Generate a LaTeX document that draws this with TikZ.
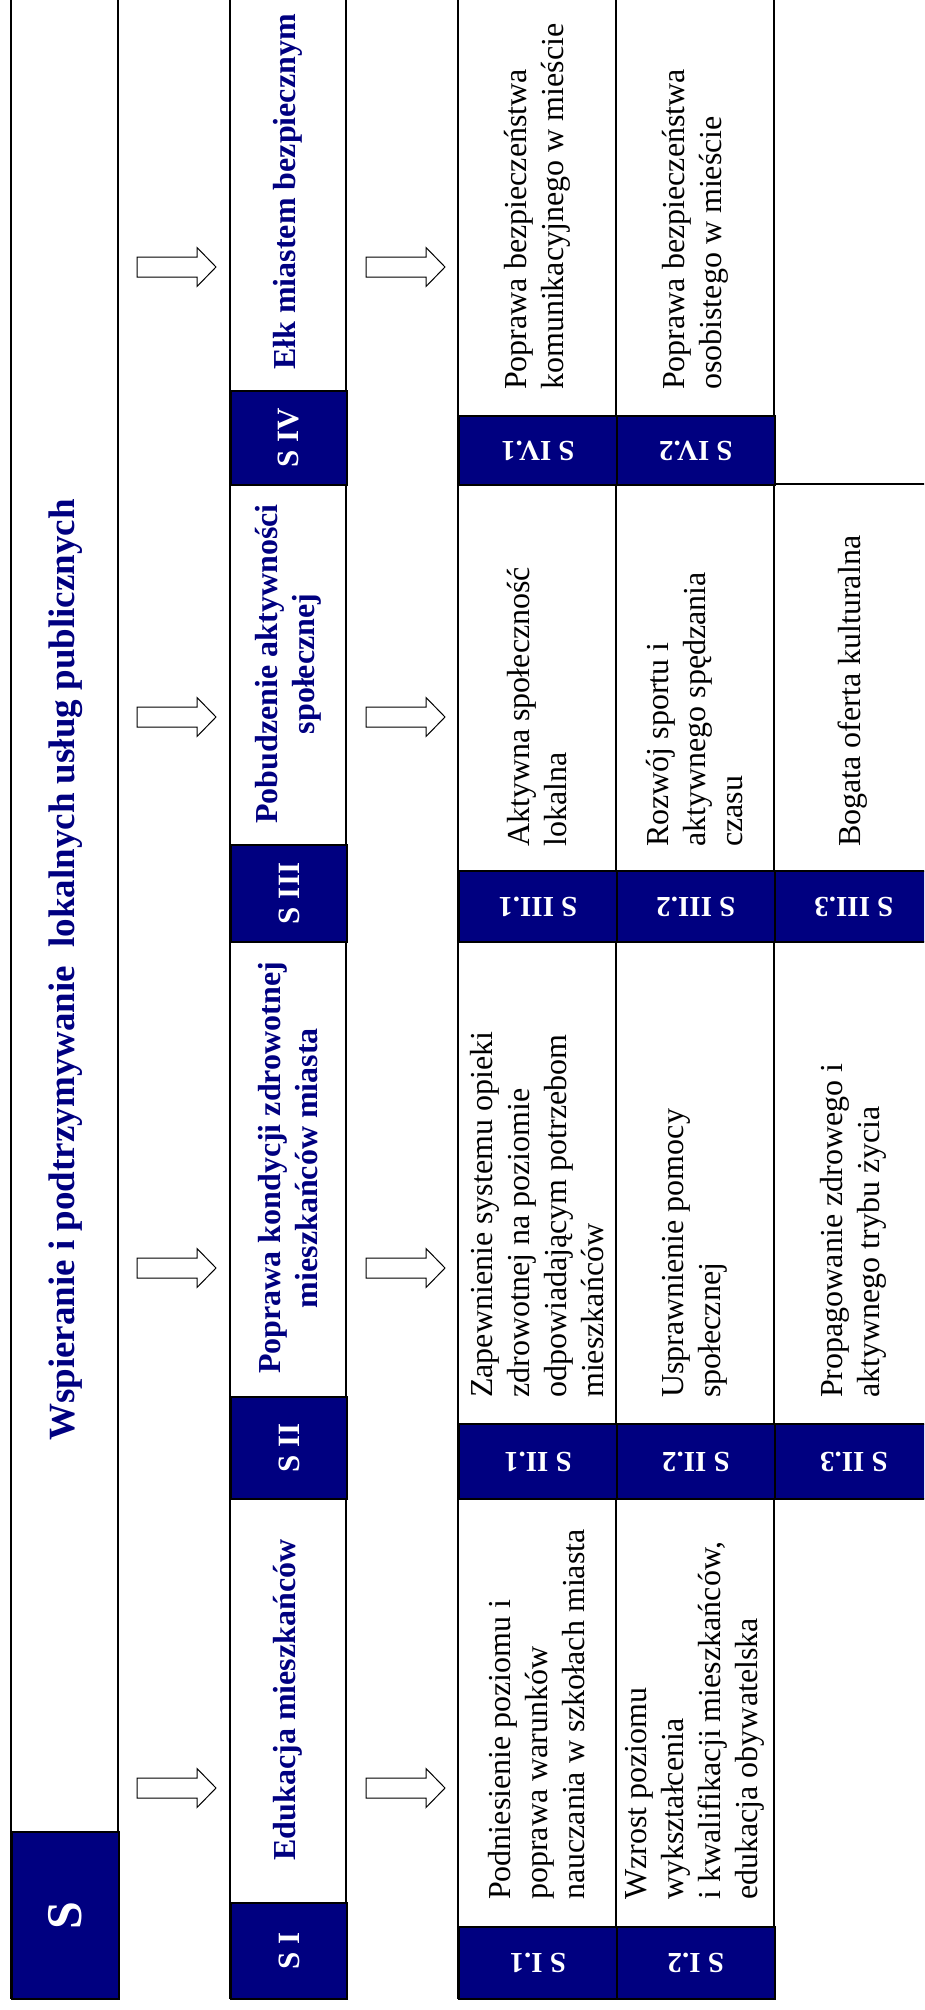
\documentclass[tikz,border=0pt]{standalone}
\usepackage{graphicx}
\usepackage{fontspec}
\setmainfont{Liberation Serif}
\definecolor{sgnavy}{RGB}{0,0,128}

\begin{document}
\begin{tikzpicture}[x=1pt, y=-1pt,
  frame/.style={line width=1.4pt},
  hdr/.style={rectangle, draw=black, line width=1.8pt, fill=sgnavy, text=white, inner sep=0pt, anchor=north west, font=\fontsize{31}{36}\selectfont\bfseries},
  goal/.style={rotate=90, inner sep=0pt, align=center, text=sgnavy, font=\fontsize{32}{37}\selectfont\bfseries},
  task/.style={rotate=90, inner sep=0pt, align=left, anchor=west, font=\fontsize{32}{37}\selectfont},
  blockarrow/.style={draw=black, line width=1pt, fill=white}
]
\useasboundingbox (0,0) rectangle (924,2010);
\clip (0,0) rectangle (924,2010);

% table columns
\draw[frame] (11,-10) rectangle (118,1998);
\draw[frame] (230,-10) rectangle (346,1998);
\draw[frame] (458,-10) rectangle (774,1998);
\draw[frame] (616,-10) -- (616,1998);
\draw[frame] (774,-10) -- (774,1998);
\draw[frame] (774,484) -- (940,484);

% main goal
\node[hdr, minimum width=107, minimum height=167, font=\fontsize{50}{56}\selectfont\bfseries] (s) at (11,1831) {\rotatebox{90}{S}};
\node[goal, font=\fontsize{37}{42}\selectfont\bfseries] (main) at (66,970) {Wspieranie i podtrzymywanie\ \ lokalnych usług publicznych};

% strategic goals
\node[hdr, minimum width=116, minimum height=96] (s1) at (230,1902) {\rotatebox{90}{S I}};
\node[hdr, minimum width=116, minimum height=102] (s2) at (230,1396) {\rotatebox{90}{S II}};
\node[hdr, minimum width=116, minimum height=97] (s3) at (230,844) {\rotatebox{90}{S III}};
\node[hdr, minimum width=116, minimum height=94] (s4) at (230,390) {\rotatebox{90}{S IV}};

\node[goal] (g1) at (288,1700) {Edukacja mieszkańców};
\node[goal] (g2) at (288,1168) {Poprawa kondycji zdrowotnej\\mieszkańców miasta};
\node[goal] (g3) at (288,664) {Pobudzenie aktywności\\społecznej};
\node[goal] (g4) at (288,192) {Ełk miastem bezpiecznym};

% operational goals
\foreach \sec/\y/\h/\n in {I/1926/72/2, II/1423/75/3, III/870/71/3, IV/415/69/2}
  \foreach \i in {1,...,\n}
    \node[hdr, minimum width=158, minimum height=\h, font=\fontsize{29}{34}\selectfont\bfseries] (s\sec-\i) at ({458+158*(\i-1)},\y) {\rotatebox{180}{S \sec.\i}};

\node[task] (t11) at (537,1900) {Podniesienie poziomu i\\poprawa warunków\\nauczania w szkołach miasta};
\node[task] (t12) at (695,1900) {Wzrost poziomu\\wykształcenia\\i kwalifikacji mieszkańców,\\edukacja obywatelska};
\node[task] (t21) at (537,1398) {Zapewnienie systemu opieki\\zdrowotnej na poziomie\\odpowiadającym potrzebom\\mieszkańców};
\node[task] (t22) at (695,1398) {Usprawnienie pomocy\\społecznej};
\node[task] (t23) at (853,1398) {Propagowanie zdrowego i\\aktywnego trybu życia};
\node[task] (t31) at (537,847) {Aktywna społeczność\\lokalna};
\node[task] (t32) at (695,847) {Rozwój sportu i\\aktywnego spędzania\\czasu};
\node[task] (t33) at (853,847) {Bogata oferta kulturalna};
\node[task] (t41) at (537,390) {Poprawa bezpieczeństwa\\komunikacyjnego w mieście};
\node[task] (t42) at (695,390) {Poprawa bezpieczeństwa\\osobistego w mieście};

% arrows between the columns
\foreach \y in {267,717,1268,1788}
  \foreach \x in {137,366}
    \draw[blockarrow] (\x,\y) ++(0,-10) -- ++(60,0) -- ++(0,-9.5) -- ++(19,19.5) -- ++(-19,19.5) -- ++(0,-9.5) -- ++(-60,0) -- cycle;

\end{tikzpicture}
\end{document}
